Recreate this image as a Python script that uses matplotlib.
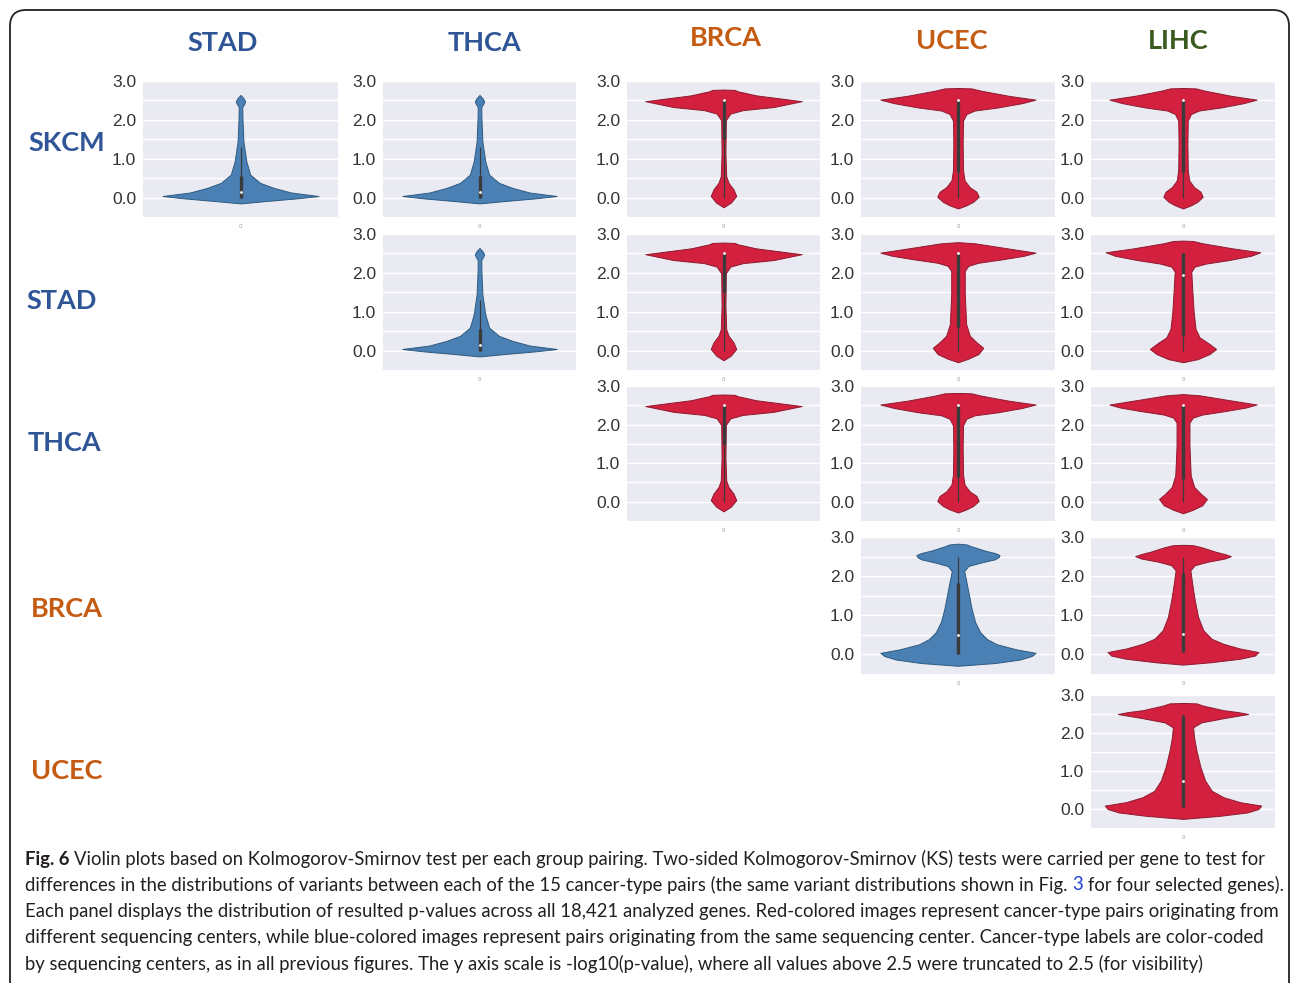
import matplotlib
matplotlib.use("Agg")
import matplotlib.pyplot as plt
from matplotlib.patches import FancyBboxPatch
import numpy as np

W, H = 1290, 983

# cancer types and their sequencing center
col_names = ["STAD", "THCA", "BRCA", "UCEC", "LIHC"]
row_names = ["SKCM", "STAD", "THCA", "BRCA", "UCEC"]
center = {"SKCM": "A", "STAD": "A", "THCA": "A", "BRCA": "B", "UCEC": "B", "LIHC": "C"}
center_color = {"A": "#2f5597", "B": "#c55a11", "C": "#3a5a1f"}

# violin outlines: -log10(p) levels and half widths
narrow_y = [-0.15, -0.085, -0.02, 0.04, 0.13, 0.25, 0.38, 0.59, 0.93, 1.44, 2.03, 2.33, 2.42, 2.48, 2.56, 2.64]
narrow_w = [0.0, 0.14, 0.29, 0.40, 0.26, 0.17, 0.10, 0.05, 0.03, 0.015, 0.01, 0.009, 0.02, 0.024, 0.015, 0.0]
narrow_box = [0.0, 1.3, 0.0, 0.55, 0.15]  # whisker lo, hi, q1, q3, median

top_thin_y = [-0.25, -0.13, 0.04, 0.21, 0.38, 0.55, 1.14, 1.99, 2.16, 2.25, 2.33, 2.48, 2.63, 2.74, 2.77, 2.78]
top_thin_w = [0.0, 0.038, 0.066, 0.052, 0.026, 0.014, 0.01, 0.012, 0.035, 0.10, 0.26, 0.405, 0.17, 0.07, 0.06, 0.0]
top_thin_box = [0.0, 2.5, 1.5, 2.5, 2.5]

top_a_y = [-0.28, -0.2, -0.11, 0.02, 0.15, 0.27, 0.44, 0.7, 1.38, 1.98, 2.15, 2.24, 2.32, 2.43, 2.52, 2.62, 2.75, 2.81, 2.82]
top_a_w = [0.0, 0.043, 0.078, 0.107, 0.095, 0.06, 0.034, 0.026, 0.024, 0.026, 0.043, 0.086, 0.207, 0.33, 0.40, 0.26, 0.12, 0.069, 0.0]
top_a_box = [0.0, 2.5, 0.65, 2.5, 2.5]

top_b_y = [-0.3, -0.21, -0.09, 0.07, 0.21, 0.38, 0.68, 1.45, 2.05, 2.18, 2.26, 2.35, 2.44, 2.52, 2.65, 2.76, 2.79]
top_b_w = [0.0, 0.053, 0.105, 0.13, 0.096, 0.061, 0.042, 0.035, 0.035, 0.053, 0.105, 0.23, 0.34, 0.40, 0.23, 0.088, 0.0]
top_b_box = [0.0, 2.5, 0.6, 2.5, 2.5]

top_c_y = [-0.3, -0.22, -0.09, 0.04, 0.17, 0.34, 0.56, 0.99, 1.6, 2.03, 2.16, 2.24, 2.33, 2.44, 2.53, 2.63, 2.76, 2.82, 2.83]
top_c_w = [0.0, 0.08, 0.144, 0.18, 0.144, 0.09, 0.068, 0.058, 0.05, 0.045, 0.063, 0.126, 0.25, 0.37, 0.42, 0.27, 0.108, 0.054, 0.0]
top_c_box = [0.0, 2.5, 0.4, 2.5, 1.95]

wide_a_y = [-0.29, -0.22, -0.13, -0.04, 0.04, 0.13, 0.26, 0.39, 0.57, 0.83, 1.17, 1.61, 1.96, 2.13, 2.26, 2.35, 2.43, 2.49, 2.54, 2.59, 2.65, 2.76, 2.81, 2.83]
wide_a_w = [0.0, 0.19, 0.32, 0.38, 0.40, 0.30, 0.20, 0.15, 0.114, 0.088, 0.07, 0.053, 0.039, 0.032, 0.053, 0.12, 0.19, 0.21, 0.214, 0.19, 0.14, 0.07, 0.044, 0.0]
wide_a_box = [0.02, 2.5, 0.02, 1.83, 0.5]

wide_b_y = [-0.26, -0.2, -0.11, -0.03, 0.06, 0.15, 0.27, 0.4, 0.62, 0.96, 1.38, 1.81, 2.15, 2.28, 2.37, 2.45, 2.51, 2.56, 2.62, 2.74, 2.79, 2.8]
wide_b_w = [0.0, 0.15, 0.31, 0.39, 0.41, 0.31, 0.22, 0.155, 0.11, 0.082, 0.064, 0.05, 0.04, 0.064, 0.136, 0.227, 0.26, 0.23, 0.18, 0.1, 0.055, 0.0]
wide_b_box = [0.05, 2.5, 0.05, 2.07, 0.51]

wide_c_y = [-0.26, -0.18, -0.09, 0.0, 0.09, 0.18, 0.31, 0.48, 0.75, 1.1, 1.54, 1.89, 2.15, 2.28, 2.39, 2.5, 2.55, 2.6, 2.72, 2.78, 2.79]
wide_c_w = [0.0, 0.2, 0.35, 0.41, 0.425, 0.31, 0.22, 0.156, 0.12, 0.095, 0.073, 0.06, 0.055, 0.1, 0.22, 0.354, 0.30, 0.22, 0.11, 0.073, 0.0]
wide_c_box = [0.05, 2.5, 0.05, 2.45, 0.75]

shapes = {
    "narrow": (narrow_y, narrow_w, narrow_box),
    "top_thin": (top_thin_y, top_thin_w, top_thin_box),
    "top_a": (top_a_y, top_a_w, top_a_box),
    "top_b": (top_b_y, top_b_w, top_b_box),
    "top_c": (top_c_y, top_c_w, top_c_box),
    "wide_a": (wide_a_y, wide_a_w, wide_a_box),
    "wide_b": (wide_b_y, wide_b_w, wide_b_box),
    "wide_c": (wide_c_y, wide_c_w, wide_c_box),
}

# which outline goes in which (row, column) panel
panel_shape = {
    ("SKCM", "STAD"): "narrow", ("SKCM", "THCA"): "narrow", ("SKCM", "BRCA"): "top_thin",
    ("SKCM", "UCEC"): "top_a", ("SKCM", "LIHC"): "top_a",
    ("STAD", "THCA"): "narrow", ("STAD", "BRCA"): "top_thin", ("STAD", "UCEC"): "top_b",
    ("STAD", "LIHC"): "top_c",
    ("THCA", "BRCA"): "top_thin", ("THCA", "UCEC"): "top_a", ("THCA", "LIHC"): "top_b",
    ("BRCA", "UCEC"): "wide_a", ("BRCA", "LIHC"): "wide_b",
    ("UCEC", "LIHC"): "wide_c",
}

caption_lines = [
    [("Fig. 6", "bold", None), ("Violin plots based on Kolmogorov-Smirnov test per each group pairing. Two-sided Kolmogorov-Smirnov (KS) tests were carried per gene to test for", "normal", None)],
    [("differences in the distributions of variants between each of the 15 cancer-type pairs (the same variant distributions shown in Fig.", "normal", None), ("3", "normal", "#1f3fd8"), ("for four selected genes).", "normal", None)],
    [("Each panel displays the distribution of resulted p-values across all 18,421 analyzed genes. Red-colored images represent cancer-type pairs originating from", "normal", None)],
    [("different sequencing centers, while blue-colored images represent pairs originating from the same sequencing center. Cancer-type labels are color-coded", "normal", None)],
    [("by sequencing centers, as in all previous figures. The y axis scale is -log10(p-value), where all values above 2.5 were truncated to 2.5 (for visibility)", "normal", None)],
]

# layout in pixels
col_x = [(143, 338), (383, 576), (627, 820), (861, 1055), (1091, 1275)]
row_y = [(81, 217), (234, 370), (386, 521), (537, 674), (695, 828)]
col_head = [(223, 43), (484, 43), (726, 38), (952, 41), (1178, 41)]
row_head = [(67, 143), (62, 301), (65, 443), (67, 609), (67, 771)]
caption_y = [859, 885, 911, 938, 964]

BLUE = "#4a80b4"
RED = "#d3203f"


def draw_violin(ax, y, hw, box, color, edge):
    y = np.asarray(y)
    hw = np.asarray(hw)
    ax.fill_betweenx(y, -hw, hw, facecolor=color, edgecolor=edge, linewidth=0.7,
                     joinstyle="round", zorder=2)
    lo, hi, q1, q3, med = box
    ax.plot([0, 0], [lo, hi], color="#3a3a3a", lw=0.9, solid_capstyle="butt", zorder=3)
    ax.plot([0, 0], [q1, q3], color="#3a3a3a", lw=2.4, solid_capstyle="butt", zorder=3)
    ax.scatter([0], [med], s=4, color="white", zorder=4, linewidths=0)


def style_panel(ax):
    ax.set_facecolor("#eaeaf2")
    ax.set_xlim(-0.5, 0.5)
    ax.set_ylim(-0.5, 3.0)
    ax.set_yticks([0, 1, 2, 3])
    ax.set_yticklabels(["0.0", "1.0", "2.0", "3.0"], fontsize=12.5, color="#333333",
                       family="Liberation Sans")
    ax.set_yticks(np.arange(0, 3.01, 0.5), minor=True)
    ax.set_xticks([0])
    ax.set_xticklabels(["0"], fontsize=4, color="#999999")
    ax.tick_params(which="both", length=0, pad=5)
    ax.yaxis.grid(True, which="both", color="white", lw=1)
    ax.set_axisbelow(True)
    for s in ax.spines.values():
        s.set_visible(False)


def text_width(bg, renderer, s, size, weight):
    t = bg.text(0, 0, s, fontsize=size, fontweight=weight, family="Lato")
    w = t.get_window_extent(renderer).width
    t.remove()
    return w


def main():
    fig = plt.figure(figsize=(W / 100, H / 100), dpi=100)
    fig.patch.set_facecolor("white")

    # full-figure axes in pixel units for border, labels and caption
    bg = fig.add_axes([0, 0, 1, 1])
    bg.set_xlim(0, W)
    bg.set_ylim(H, 0)
    bg.axis("off")
    bg.add_patch(FancyBboxPatch((10, 10), 1279, 1010, boxstyle="round,pad=0,rounding_size=16",
                                facecolor="none", edgecolor="#222222", lw=1.3, clip_on=False))

    for j, name in enumerate(col_names):
        x, y = col_head[j]
        bg.text(x, y, name, ha="center", va="center", fontsize=19.5, fontweight="bold",
                family="Lato", color=center_color[center[name]])
    for i, name in enumerate(row_names):
        x, y = row_head[i]
        bg.text(x, y, name, ha="center", va="center", fontsize=19.5, fontweight="bold",
                family="Lato", color=center_color[center[name]])

    for i, r in enumerate(row_names):
        for j, c in enumerate(col_names):
            if (r, c) not in panel_shape:
                continue
            x0, x1 = col_x[j]
            y0, y1 = row_y[i]
            ax = fig.add_axes([x0 / W, 1 - y1 / H, (x1 - x0) / W, (y1 - y0) / H])
            style_panel(ax)
            y, hw, box = shapes[panel_shape[(r, c)]]
            same = center[r] == center[c]
            color = BLUE if same else RED
            edge = "#2e5a80" if same else "#8e1a30"
            draw_violin(ax, y, hw, box, color, edge)

    # caption, sized so the first line spans the box
    renderer = fig.canvas.get_renderer()
    base = 10.0
    space = text_width(bg, renderer, "x x", base, "normal") - text_width(bg, renderer, "xx", base, "normal")
    first = sum(text_width(bg, renderer, s, base, wt) for s, wt, _ in caption_lines[0])
    first += space * (len(caption_lines[0]) - 1)
    size = base * 1245 / first
    space = space * size / base
    for runs, y in zip(caption_lines, caption_y):
        x = 25
        for s, wt, col in runs:
            t = bg.text(x, y, s, fontsize=size, fontweight=wt, family="Lato", va="center",
                        color=col or "#231f20")
            x += t.get_window_extent(renderer).width + space

    fig.savefig("out.png", dpi=100)


if __name__ == "__main__":
    main()
